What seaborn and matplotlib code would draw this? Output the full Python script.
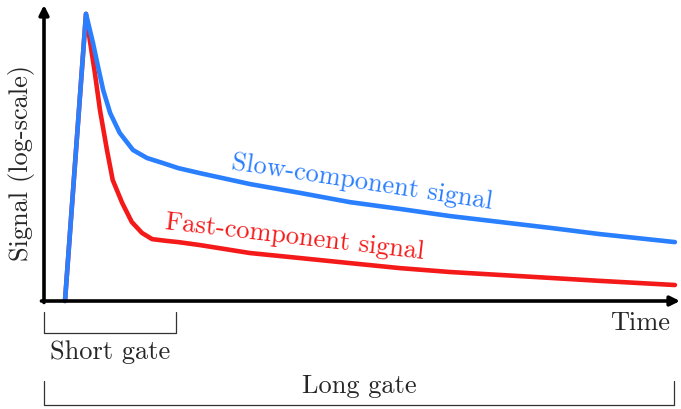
"""Schematic of slow / fast component pulse signals with integration gates."""
import matplotlib

matplotlib.use("Agg")
import matplotlib.pyplot as plt
import matplotlib.transforms as mtransforms
import seaborn as sns

sns.set_theme(style="white")
plt.rcParams["font.family"] = "serif"
plt.rcParams["font.serif"] = ["cmr10", "DejaVu Serif"]
plt.rcParams["axes.formatter.use_mathtext"] = True

# signal shapes (time and signal in arbitrary units)
slow_time = [3.3, 6.6, 7.7, 8.5, 9.3, 10.4, 11.9, 14.0, 16.2, 18.7, 21.1, 24.5,
             32.4, 40.3, 48.1, 56.0, 63.8, 71.7, 79.6, 87.4, 99.2]
slow_signal = [0.0, 97.0, 87.2, 79.1, 71.3, 63.5, 56.8, 51.0, 48.3, 46.6, 44.9, 43.2,
               39.5, 36.5, 33.4, 31.1, 28.7, 26.7, 24.7, 22.6, 19.9]
fast_time = [3.3, 6.6, 7.2, 8.0, 8.8, 9.9, 10.8, 12.3, 13.8, 15.4, 17.0, 19.3, 21.1,
             24.5, 32.4, 40.3, 48.1, 56.0, 63.8, 71.7, 79.6, 87.4, 99.2]
fast_signal = [0.0, 97.0, 88.2, 77.0, 64.5, 51.0, 40.9, 33.1, 26.7, 23.0, 20.9, 20.3, 19.9,
               18.9, 16.2, 14.5, 12.8, 11.1, 9.8, 8.8, 7.8, 6.8, 5.4]

short_gate = (0.0, 20.8)
long_gate = (0.0, 99.0)

BLUE = "#2a7fff"
RED = "#f41a1a"
FS = 19

fig = plt.figure(figsize=(6.81, 4.09), dpi=100)
ax = fig.add_axes([44 / 681, 108 / 409, 636 / 681, 296 / 409])
ax.set_xlim(0, 100)
ax.set_ylim(0, 100)
for s in ax.spines.values():
    s.set_visible(False)
ax.set_xticks([])
ax.set_yticks([])

# axis arrows
arrow = dict(arrowstyle="-|>", lw=2.6, color="black", mutation_scale=14, shrinkA=0, shrinkB=0)
ax.annotate("", xy=(1.0, 0.0), xytext=(-0.004, 0.0), xycoords="axes fraction", arrowprops=arrow)
ax.annotate("", xy=(0.0, 1.0), xytext=(0.0, -0.005), xycoords="axes fraction", arrowprops=arrow)

sns.lineplot(x=fast_time, y=fast_signal, sort=False, color=RED, lw=3.3, ax=ax,
             solid_capstyle="round", solid_joinstyle="round", clip_on=False)
sns.lineplot(x=slow_time, y=slow_signal, sort=False, color=BLUE, lw=3.3, ax=ax,
             solid_capstyle="round", solid_joinstyle="round", clip_on=False)

ax.text(50.0, 40.2, "Slow-component signal", color=BLUE, fontsize=FS,
        rotation=-8.7, ha="center", va="center", rotation_mode="anchor")
ax.text(39.5, 21.6, "Fast-component signal", color=RED, fontsize=FS,
        rotation=-6.6, ha="center", va="center", rotation_mode="anchor")

ax.text(-0.036, 0.466, "Signal (log-scale)", transform=ax.transAxes, rotation=90,
        fontsize=FS, ha="center", va="center")
ax.text(0.984, -0.074, "Time", transform=ax.transAxes, fontsize=FS, ha="right", va="center")

# gate brackets
trans = mtransforms.blended_transform_factory(ax.transData, ax.transAxes)
for (g0, g1), top, bottom, label_y, label in [
    (short_gate, -0.037, -0.108, -0.172, "Short gate"),
    (long_gate, -0.270, -0.351, -0.287, "Long gate"),
]:
    ax.plot([g0, g0, g1, g1], [top, bottom, bottom, top], color="#333333", lw=0.9,
            transform=trans, clip_on=False)
    ax.text((g0 + g1) / 2, label_y, label, transform=trans, fontsize=FS,
            ha="center", va="center")

fig.savefig("out.png", dpi=100)
